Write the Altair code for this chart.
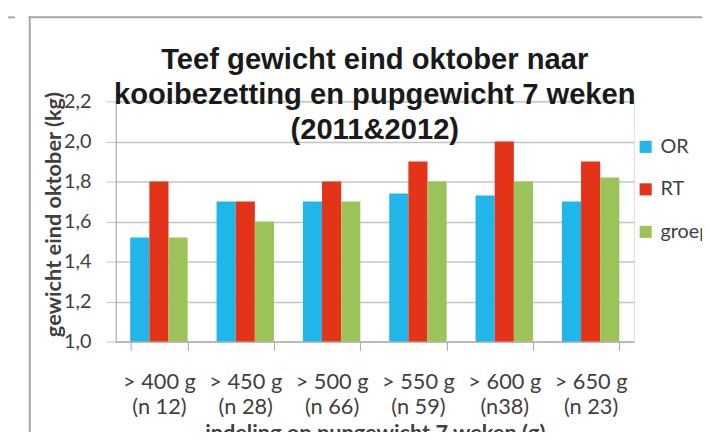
import altair as alt
import pandas as pd

categories = ["> 400 g", "> 450 g", "> 500 g", "> 550 g", "> 600 g", "> 650 g"]
counts = ["(n 12)", "(n 28)", "(n 66)", "(n 59)", "(n38)", "(n 23)"]
series = ["OR", "RT", "groep"]
or_vals = [1.52, 1.70, 1.70, 1.74, 1.73, 1.70]
rt_vals = [1.80, 1.70, 1.80, 1.90, 2.00, 1.90]
groep_vals = [1.52, 1.60, 1.70, 1.80, 1.80, 1.82]
colors = ["#21B6EA", "#E3341A", "#9CC35A"]
y_ticks = [1.0, 1.2, 1.4, 1.6, 1.8, 2.0, 2.2]

rows = []
for s, vals in zip(series, [or_vals, rt_vals, groep_vals]):
    for c, n, v in zip(categories, counts, vals):
        rows.append({"klasse": c + "|" + n, "serie": s, "gewicht": v})
df = pd.DataFrame(rows)
x_order = [c + "|" + n for c, n in zip(categories, counts)]

TXT = "#404040"
GRID = "#C4C4C4"
FRAME = "#A6A6A6"

bars = alt.Chart(df).mark_bar().encode(
    x=alt.X("klasse:N", sort=x_order,
            scale=alt.Scale(paddingInner=0.335, paddingOuter=0.1675),
            axis=alt.Axis(title="indeling op pupgewicht 7 weken (g)",
                          labelExpr="split(datum.label, '|')",
                          labelAngle=0, tickBand="extent", tickSize=9,
                          labelPadding=21, labelLineHeight=26,
                          labelFont="Lato", labelFontSize=22, labelColor=TXT,
                          titleFont="Lato", titleFontSize=22, titleFontWeight="bold",
                          titleColor=TXT, titleY=92, titleBaseline="middle",
                          domainColor=FRAME, tickColor=FRAME, grid=False)),
    xOffset=alt.XOffset("serie:N", sort=series, scale=alt.Scale(paddingInner=0, paddingOuter=0)),
    y=alt.Y("gewicht:Q", scale=alt.Scale(domain=[1.0, 2.2], zero=False, nice=False),
            axis=alt.Axis(title="gewicht eind oktober (kg)", values=y_ticks,
                          labelExpr="replace(format(datum.value, '.1f'), '.', ',')",
                          tickSize=10, labelPadding=15,
                          labelFont="Lato", labelFontSize=20, labelColor=TXT,
                          titleFont="Lato", titleFontSize=22, titleFontWeight="bold",
                          titleColor=TXT, titleX=-63, titleY=114, titleBaseline="middle",
                          titleAngle=-90,
                          domainColor=FRAME, tickColor=GRID, gridColor=GRID,
                          gridWidth=1.5)),
    y2=alt.datum(1.0),
    color=alt.Color("serie:N", sort=series,
                    scale=alt.Scale(domain=series, range=colors),
                    legend=alt.Legend(title=None, orient="none", legendX=526, legendY=36,
                                      symbolType="square", symbolSize=150,
                                      symbolStrokeWidth=0, labelFont="Lato",
                                      labelFontSize=20, labelColor=TXT,
                                      rowPadding=23, labelOffset=5)),
)

frame_df = pd.DataFrame({"k": [0]})
frame_v = alt.Chart(frame_df).mark_rule(color=FRAME, strokeWidth=2).encode(
    x=alt.value(-87), y=alt.value(-86), y2=alt.value(340))
frame_h = alt.Chart(frame_df).mark_rule(color=FRAME, strokeWidth=2).encode(
    x=alt.value(-88), x2=alt.value(593), y=alt.value(-85), y2=alt.value(-85))
frame_l = alt.Chart(frame_df).mark_rule(color=FRAME, strokeWidth=2).encode(
    x=alt.value(-120), x2=alt.value(-102), y=alt.value(-85))

chart = alt.layer(bars, frame_v, frame_h, frame_l).properties(
    width=524, height=243,
    padding={"left": 109, "top": 92, "right": 69, "bottom": 89},
    autosize=alt.AutoSizeParams(type="none"),
    title=alt.TitleParams(
        text=["Teef gewicht eind oktober naar",
              "kooibezetting en pupgewicht 7 weken",
              "(2011&2012)"],
        font="Liberation Sans", fontSize=29.5, fontWeight="bold", color="#1A1A1A",
        lineHeight=35.5, anchor="middle", frame="group", offset=-132),
).configure_view(stroke=None).configure(background="white")

chart.save("out.html", embed_options={"renderer": "svg", "actions": False})
